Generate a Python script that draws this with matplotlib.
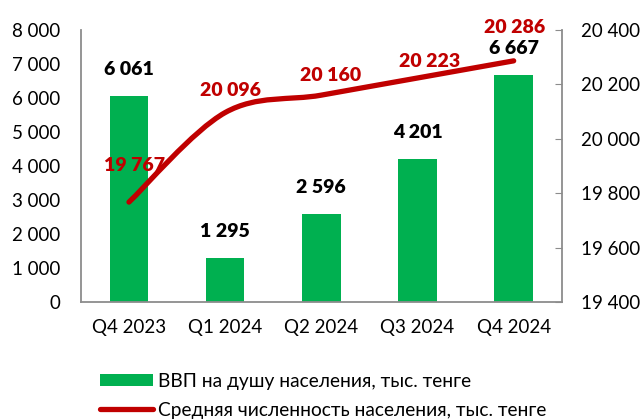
import numpy as np
import matplotlib
matplotlib.use("Agg")
import matplotlib.pyplot as plt
from matplotlib.path import Path
from matplotlib.patches import PathPatch
from matplotlib.lines import Line2D
from matplotlib.patches import Patch

plt.rcParams['font.family'] = ['Lato', 'DejaVu Sans']

quarters = ['Q4 2023', 'Q1 2024', 'Q2 2024', 'Q3 2024', 'Q4 2024']
gdp_per_capita = [6061, 1295, 2596, 4201, 6667]
population = [19767, 20096, 20160, 20223, 20286]

gdp_label = 'ВВП на душу населения, тыс. тенге'
pop_label = 'Средняя численность населения, тыс. тенге'

green = '#00B050'
red = '#C00000'
grey = '#8C8C8C'


def fmt(v):
    return '{:,}'.format(int(v)).replace(',', ' ')


def smooth_path(xs, ys):
    # excel-like smoothed line as cubic bezier segments
    xs = np.asarray(xs, float)
    ys = np.asarray(ys, float)
    n = len(xs)
    verts = [(xs[0], ys[0])]
    codes = [Path.MOVETO]
    for i in range(n - 1):
        x0, y0 = (xs[i - 1], ys[i - 1]) if i > 0 else (xs[i], ys[i])
        x3, y3 = (xs[i + 2], ys[i + 2]) if i + 2 < n else (xs[i + 1], ys[i + 1])
        c1 = (xs[i] + (xs[i + 1] - x0) / 6, ys[i] + (ys[i + 1] - y0) / 6)
        c2 = (xs[i + 1] - (x3 - xs[i]) / 6, ys[i + 1] - (y3 - ys[i]) / 6)
        verts += [c1, c2, (xs[i + 1], ys[i + 1])]
        codes += [Path.CURVE4] * 3
    return Path(verts, codes)


fig = plt.figure(figsize=(6.42, 4.2), dpi=100)
ax = fig.add_axes([0.126, 0.281, 0.749, 0.648])
x = np.arange(len(quarters))

ax.bar(x, gdp_per_capita, width=0.4, color=green, zorder=2)
ax.set_ylim(0, 8000)
ax.set_yticks(range(0, 8001, 1000))
ax.set_yticklabels([fmt(v) for v in range(0, 8001, 1000)])
ax.set_xlim(-0.5, len(quarters) - 0.5)
ax.set_xticks(x)
ax.set_xticklabels(quarters)
ax.tick_params(axis='y', length=0, pad=15, labelsize=13.5)
ax.tick_params(axis='x', length=0, pad=12, labelsize=13.5)
for s in ['top', 'right']:
    ax.spines[s].set_visible(False)
for s in ['left', 'bottom']:
    ax.spines[s].set_color(grey)
    ax.spines[s].set_linewidth(1.3)

for xi, v in zip(x, gdp_per_capita):
    ax.annotate(fmt(v), (xi, v), xytext=(0, 13), textcoords='offset points',
                ha='center', va='bottom', fontsize=14, fontweight='heavy', color='black')

ax2 = ax.twinx()
ax2.set_ylim(19400, 20400)
ax2.set_yticks(range(19400, 20401, 200))
ax2.set_yticklabels([fmt(v) for v in range(19400, 20401, 200)])
ax2.tick_params(axis='y', direction='in', length=5, color=grey, pad=14, labelsize=13.5)
for s in ['top', 'left', 'bottom']:
    ax2.spines[s].set_visible(False)
ax2.spines['right'].set_color(grey)
ax2.spines['right'].set_linewidth(1.3)

ax2.add_patch(PathPatch(smooth_path(x, population), facecolor='none', edgecolor=red,
                        lw=3.8, capstyle='round', zorder=3))

label_offsets = [(4, 26), (4, 16), (7, 14), (9, 12), (1, 24)]
for xi, v, off in zip(x, population, label_offsets):
    ax2.annotate(fmt(v), (xi, v), xytext=off, textcoords='offset points',
                 ha='center', va='center', fontsize=14, fontweight='heavy', color=red)

handles = [Patch(facecolor=green, edgecolor='none'),
           Line2D([0], [0], color=red, lw=3.8, solid_capstyle='round')]
fig.legend(handles, [gdp_label, pop_label], loc='lower left',
           bbox_to_anchor=(0.129, -0.038), frameon=False, fontsize=13.8,
           handlelength=2.75, handleheight=0.55, handletextpad=0.25, labelspacing=0.62)

fig.savefig('out.png', dpi=100)
